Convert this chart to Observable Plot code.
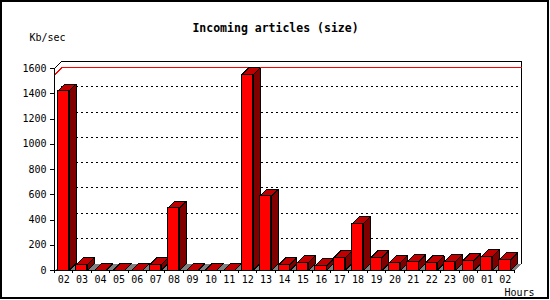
<!DOCTYPE html>
<html>
<head>
<meta charset="utf-8">
<script src="https://cdn.jsdelivr.net/npm/d3@7"></script>
<script src="https://cdn.jsdelivr.net/npm/@observablehq/plot@0.6"></script>
<style>
  html, body { margin: 0; padding: 0; background: #fff; }
  #wrap { position: relative; width: 550px; height: 300px; overflow: hidden; }
  #border { position: absolute; left: 0; top: 0; width: 549px; height: 299px; box-sizing: border-box; border: 2px solid #000; pointer-events: none; }
  #wrap svg { shape-rendering: crispEdges; }
</style>
</head>
<body>
<div id="wrap"><div id="border"></div></div>
<script>
const titleText = "Incoming articles (size)";
const yLabel = "Kb/sec";
const xLabel = "Hours";
const hours = ["02","03","04","05","06","07","08","09","10","11","12","13","14","15","16","17","18","19","20","21","22","23","00","01","02"];
const values = [1420,45,0,0,0,45,495,0,0,0,1550,590,45,61,37,100,372,100,61,69,61,69,77,108,85];
const yTicks = [0,200,400,600,800,1000,1200,1400,1600];

const W = 550, H = 300, mL = 54, mR = 36, mT = 68, mB = 30;
const n = hours.length;
const yMax = 1600;
const kx = (W - mL - mR) / n;
const ky = (H - mT - mB) / yMax;
const D = 7;               // 3D depth in pixels
const ddx = D / kx, ddy = D / ky;
const f1 = 0.18, f2 = 0.79;  // front face within band

const bars = values.map((v, i) => ({i, v, label: hours[i]}));
const sideFaces = [], topFaces = [];
bars.forEach(({i, v}) => {
  const xr = i + f2, xl = i + f1;
  [[xr,0],[xr+ddx,ddy],[xr+ddx,v+ddy],[xr,v],[xr,0]].forEach(([x,y]) => sideFaces.push({id:i, x, y}));
  [[xl,v],[xr,v],[xr+ddx,v+ddy],[xl+ddx,v+ddy],[xl,v]].forEach(([x,y]) => topFaces.push({id:i, x, y}));
});
const floorPoly = [[0,0],[n,0],[n+ddx,ddy],[ddx,ddy],[0,0]].map(([x,y]) => ({x,y}));
const backEdge = [[0,yMax],[ddx,yMax+ddy],[n+ddx,yMax+ddy],[n+ddx,ddy]].map(([x,y]) => ({x,y}));
const vmax = d3.max(values);
const maxLine = [[0,vmax],[ddx,vmax+ddy],[n+ddx,vmax+ddy]].map(([x,y]) => ({x,y}));

const font = "DejaVu Sans Mono";
const chart = Plot.plot({
  width: W, height: H,
  marginLeft: mL, marginRight: mR, marginTop: mT, marginBottom: mB,
  style: {fontFamily: font, fontSize: "10px", background: "transparent", color: "#000"},
  x: {type: "linear", domain: [0, n], label: null},
  y: {domain: [0, yMax], label: null},
  marks: [
    Plot.line(floorPoly, {x: "x", y: "y", fill: "#808080", stroke: "none"}),
    Plot.ruleY(yTicks.filter(t => t > 0 && t < yMax), {x1: ddx, x2: n + ddx, y: d => d + ddy, stroke: "#000", strokeDasharray: "2,3", strokeWidth: 1}),
    Plot.line(backEdge, {x: "x", y: "y", stroke: "#000", strokeWidth: 1}),
    Plot.line(maxLine, {x: "x", y: "y", stroke: "#ff0000", strokeWidth: 1}),
    Plot.line(sideFaces, {x: "x", y: "y", z: "id", fill: "#800000", stroke: "#000", strokeWidth: 1}),
    Plot.line(topFaces, {x: "x", y: "y", z: "id", fill: "#c00000", stroke: "#000", strokeWidth: 1}),
    Plot.rectY(bars, {x1: d => d.i + f1, x2: d => d.i + f2, y1: 0, y2: "v", fill: "#ff0000", stroke: "#000", strokeWidth: 1}),
    Plot.ruleX([0], {y1: 0, y2: yMax, stroke: "#000"}),
    Plot.ruleY([0], {x1: 0, x2: n, stroke: "#000"}),
    Plot.axisY({ticks: yTicks, tickSize: 4, tickPadding: 4, tickFormat: d => String(d), fontSize: 10, fontFamily: font, label: null}),
    Plot.axisX({ticks: d3.range(n + 1), tickSize: 3, tickFormat: null, text: null, label: null}),
    Plot.axisX({ticks: d3.range(n).map(i => i + 0.5), tickSize: 0, tickPadding: 5, tickFormat: d => hours[Math.floor(d)], fontSize: 10, fontFamily: font, label: null}),
    Plot.text([titleText], {frameAnchor: "top", dx: -9, dy: -40, lineAnchor: "middle", fontSize: 11.5, fontWeight: "bold", fontFamily: font}),
    Plot.text([yLabel], {frameAnchor: "top-left", textAnchor: "start", dx: -25, dy: -31, lineAnchor: "middle", fontSize: 10, fontFamily: font}),
    Plot.text([xLabel], {frameAnchor: "bottom-right", textAnchor: "end", dx: 20, dy: 22, lineAnchor: "middle", fontSize: 10, fontFamily: font})
  ]
});
document.getElementById("wrap").insertBefore(chart, document.getElementById("border"));
</script>
</body>
</html>
